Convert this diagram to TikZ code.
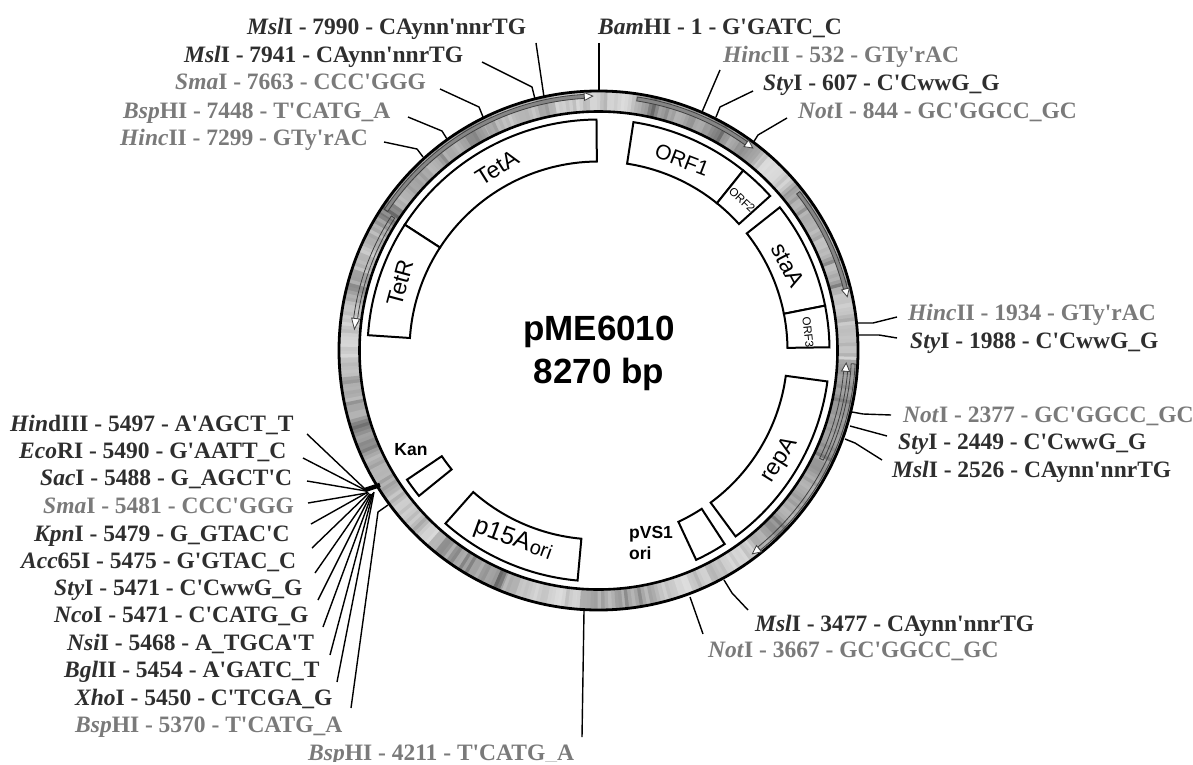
\documentclass[tikz,border=0pt]{standalone}
\usepackage{fontspec}
\setmainfont{Liberation Sans}
\newfontfamily\labfont{Liberation Serif}
\newcommand{\labsize}{\fontsize{23.5}{27}\selectfont}
\tikzset{
  sitedark/.style={anchor=base west,inner sep=0pt,text=black!82,font=\labfont\labsize\bfseries},
  sitegray/.style={anchor=base west,inner sep=0pt,text=black!52,font=\labfont\labsize\bfseries},
  leader/.style={draw=black,line width=1.4pt,line join=round},
  gene/.style={draw=black,line width=2pt,fill=white,line join=miter},
  genelabel/.style={inner sep=0pt,text=black,font=\fontsize{23}{25}\selectfont},
  orflabel/.style={inner sep=0pt,text=black,font=\fontsize{21}{23}\selectfont},
  tinylabel/.style={inner sep=0pt,text=black,font=\fontsize{11.5}{13}\selectfont},
  boldlabel/.style={inner sep=0pt,text=black,align=left,font=\fontsize{17.5}{21}\selectfont\bfseries},
  title/.style={inner sep=0pt,text=black,font=\fontsize{35}{44}\selectfont\bfseries},
  featurearrow/.style={draw=black!75,line width=.8pt,line join=miter}
}
% gene box: start angle, end angle
\newcommand{\genebox}[2]{\draw[gene] (#1:231pt) arc[start angle=#1,end angle=#2,radius=231pt] -- (#2:189pt) arc[start angle=#2,end angle=#1,radius=189pt] -- cycle;}
% feature arrow: shaft fill, radius, tail angle, shaft end angle, head tip angle
\newcommand{\featarrow}[5]{\draw[featurearrow,fill=#1]
  (#3:#2pt-2pt) arc[start angle=#3,end angle=#4,radius=#2pt-2pt] -- (#4:#2pt+2pt) arc[start angle=#4,end angle=#3,radius=#2pt+2pt] -- cycle;
  \draw[featurearrow,fill=white] (#4:#2pt-4pt) -- (#5:#2pt) -- (#4:#2pt+4pt) -- cycle;}
% ring: zone start, zone end, base darkness, spread (smoothed random stripes)
\newcommand{\ringzone}[4]{%
  \pgfmathsetmacro{\ringnext}{#1+0.8}
  \foreach \a in {#1,\ringnext,...,#2}{
    \pgfmathsetmacro{\v}{0.55*\vlast+0.45*(#3+#4*rnd*rnd*2)}
    \global\let\vlast\v
    \pgfmathsetmacro{\b}{\a+1.1}
    \fill[black!\v] (\a:239pt) arc[start angle=\a,end angle=\b,radius=239pt] -- (\b:259pt) arc[start angle=\b,end angle=\a,radius=259pt] -- cycle;
  }}
\def\vlast{25}
% label: id, x, baseline, style, italic part, rest
\newcommand{\sitelabel}[6]{\node[#4] (#1) at (#2,#3) {\textit{#5}#6};}
\newcommand{\leadertwo}[3]{\coordinate (#1a) at (#2); \coordinate (#1b) at (#3); \draw[leader] (#1a) -- (#1b);}
\newcommand{\leaderthree}[4]{\coordinate (#1a) at (#2); \coordinate (#1b) at (#3); \coordinate (#1c) at (#4); \draw[leader] (#1a) -- (#1b) -- (#1c);}
\begin{document}
\begin{tikzpicture}[x=1pt,y=-1pt]
\useasboundingbox (0,0) rectangle (1193,765);
\fill[white] (0,0) rectangle (1193,765);
\pgfmathsetseed{6010}
\begin{scope}[shift={(598.5,350.5)}]
  % plasmid ring stripes
  \ringzone{-3}{10}{14}{22}
  \ringzone{10}{40}{18}{32}
  \ringzone{40}{50}{10}{16}
  \ringzone{50}{56}{38}{14}
  \ringzone{56}{80}{26}{28}
  \ringzone{80}{100}{10}{18}
  \ringzone{100}{117}{16}{24}
  \ringzone{117}{122}{42}{10}
  \ringzone{122}{148}{24}{28}
  \ringzone{148}{172}{14}{28}
  \ringzone{172}{182}{10}{16}
  \ringzone{182}{215}{20}{30}
  \ringzone{215}{230}{12}{20}
  \ringzone{230}{248}{18}{34}
  \ringzone{248}{265}{12}{20}
  \ringzone{265}{276}{18}{26}
  \ringzone{276}{285}{16}{32}
  \ringzone{285}{308}{10}{18}
  \ringzone{308}{336}{24}{26}
  \ringzone{336}{357.5}{32}{16}
  % ring edges
  \draw[black,line width=2.8pt] (0,0) circle[radius=259.5pt];
  \draw[black,line width=2.6pt] (0,0) circle[radius=239pt];
  % feature arrows
  \featarrow{black!48}{254.5}{146.6}{93.2}{91.3}
  \featarrow{none}{245}{147}{172.5}{175}
  \featarrow{black!48}{254.5}{81.3}{54.5}{52.7}
  \featarrow{black!48}{254.5}{38.3}{14}{12.2}
  \featarrow{none}{248}{-26}{-4.8}{-2.9}
  \featarrow{none}{255}{-3}{-51}{-52.9}
  % gene boxes
  \genebox{90.5}{147}
  \genebox{147}{176.2}
  \genebox{81.3}{51.2}
  \genebox{51.2}{42}
  \genebox{38.3}{11.2}
  \genebox{11.2}{0.8}
  \genebox{-7.7}{-53.6}
  \genebox{-56.9}{-65}
  \genebox{-95.2}{-131.5}
  \genebox{-146}{-141}
\end{scope}
% gene labels
\node[genelabel,rotate=32] (tetA) at (497,168) {TetA};
\node[genelabel,rotate=75] (tetR) at (400,283) {TetR};
\node[orflabel,rotate=-21] (orf1) at (682,160) {ORF1};
\node[tinylabel,rotate=-43] (orf2) at (742,200) {ORF2};
\node[genelabel,rotate=-62] (staA) at (788,265) {staA};
\node[tinylabel,rotate=-84] (orf3) at (808,332) {ORF3};
\node[genelabel,rotate=58] (repA) at (780,460) {repA};
\node[boldlabel,anchor=north west] (pvs) at (629,526) {pVS1\\ori};
\node[boldlabel] (kan) at (411,450) {Kan};
\node[genelabel,rotate=-20] (p15a) at (513,540) {\fontsize{25}{27}\selectfont p15A\kern1pt{\fontsize{20}{22}\selectfont ori}};
% title
\node[title,anchor=base] (name) at (599,340) {pME6010};
\node[title,anchor=base] (size) at (599,383) {8270 bp};
% site labels, top left
\sitelabel{a1}{247}{35}{sitedark}{Msl}{I - 7990 - CAynn'nnrTG}
\sitelabel{a2}{184}{63}{sitedark}{Msl}{I - 7941 - CAynn'nnrTG}
\sitelabel{a3}{175}{90}{sitegray}{Sma}{I - 7663 - CCC'GGG}
\sitelabel{a4}{123}{119}{sitegray}{Bsp}{HI - 7448 - T'CATG\_A}
\sitelabel{a5}{120}{145}{sitegray}{Hinc}{II - 7299 - GTy'rAC}
% top right
\sitelabel{b1}{598}{35}{sitedark}{Bam}{HI - 1 - G'GATC\_C}
\sitelabel{b2}{723}{63}{sitegray}{Hinc}{II - 532 - GTy'rAC}
\sitelabel{b3}{763}{91}{sitedark}{Sty}{I - 607 - C'CwwG\_G}
\sitelabel{b4}{798}{118}{sitegray}{Not}{I - 844 - GC'GGCC\_GC}
% right
\sitelabel{c1}{908}{320}{sitegray}{Hinc}{II - 1934 - GTy'rAC}
\sitelabel{c2}{910}{348}{sitedark}{Sty}{I - 1988 - C'CwwG\_G}
\sitelabel{c3}{903}{422}{sitegray}{Not}{I - 2377 - GC'GGCC\_GC}
\sitelabel{c4}{898}{449}{sitedark}{Sty}{I - 2449 - C'CwwG\_G}
\sitelabel{c5}{892}{477}{sitedark}{Msl}{I - 2526 - CAynn'nnrTG}
% bottom right
\sitelabel{d1}{755}{631}{sitedark}{Msl}{I - 3477 - CAynn'nnrTG}
\sitelabel{d2}{708}{657}{sitegray}{Not}{I - 3667 - GC'GGCC\_GC}
% left cluster
\sitelabel{e1}{10}{431}{sitedark}{Hin}{dIII - 5497 - A'AGCT\_T}
\sitelabel{e2}{19}{458}{sitedark}{Eco}{RI - 5490 - G'AATT\_C}
\sitelabel{e3}{40}{485}{sitedark}{Sac}{I - 5488 - G\_AGCT'C}
\sitelabel{e4}{43}{513}{sitegray}{Sma}{I - 5481 - CCC'GGG}
\sitelabel{e5}{34}{541}{sitedark}{Kpn}{I - 5479 - G\_GTAC'C}
\sitelabel{e6}{21}{568}{sitedark}{Acc}{65I - 5475 - G'GTAC\_C}
\sitelabel{e7}{54}{595}{sitedark}{Sty}{I - 5471 - C'CwwG\_G}
\sitelabel{e8}{54}{622}{sitedark}{Nco}{I - 5471 - C'CATG\_G}
\sitelabel{e9}{67}{650}{sitedark}{Nsi}{I - 5468 - A\_TGCA'T}
\sitelabel{e10}{64}{677}{sitedark}{Bgl}{II - 5454 - A'GATC\_T}
\sitelabel{e11}{75}{705}{sitedark}{Xho}{I - 5450 - C'TCGA\_G}
\sitelabel{e12}{75}{732}{sitegray}{Bsp}{HI - 5370 - T'CATG\_A}
\begin{scope}
  \clip (0,0) rectangle (1193,761.5);
  \sitelabel{f1}{308}{760}{sitegray}{Bsp}{HI - 4211 - T'CATG\_A}
\end{scope}
% leaders
\leadertwo{la1}{536,43}{544,97}
\leaderthree{la2}{482,62}{532,87}{535,99}
\leaderthree{la3}{440,89}{479,107}{483,117}
\leaderthree{la4}{408,117}{442,131}{447,139}
\leaderthree{la5}{384,142}{417,149}{423,157}
\leadertwo{lb1}{599,43}{599,91}
\leadertwo{lb2}{720,70}{702,112}
\leaderthree{lb3}{753,91}{720,107}{716,117}
\leaderthree{lb4}{787,118}{758,135}{753,143}
\leaderthree{lc1}{897,317}{873,323}{858,323}
\leaderthree{lc2}{897,338}{879,335}{858,335}
\leaderthree{lc3}{891,415}{863,414}{852,412}
\leadertwo{lc4}{887,436}{850,426}
\leaderthree{lc5}{882,460}{855,443}{845,439}
\leaderthree{ld1}{748,610}{732,593}{724,580}
\leadertwo{ld2}{703,634}{690,597}
\leadertwo{lf1}{582,737}{584,611}
% cluster knot on the ring
\coordinate (knotA) at (365,490); \coordinate (knotB) at (380,485);
\draw[black,line width=4.5pt] (knotA) -- (knotB);
\leadertwo{le1}{307,434}{365,489}
\leadertwo{le2}{303,458}{365,490}
\leadertwo{le3}{307,481}{366,491}
\leadertwo{le4}{308,503}{367,493}
\leadertwo{le5}{311,524}{368,492}
\leadertwo{le6}{312,548}{369,493}
\leadertwo{le7}{315,573}{370,494}
\leadertwo{le8}{318,600}{371,494}
\leadertwo{le9}{323,627}{372,494}
\leadertwo{le10}{330,655}{373,493}
\leadertwo{le11}{337,682}{374,492}
\leaderthree{le12}{351,708}{378,512}{388,505}
\end{tikzpicture}
\end{document}
